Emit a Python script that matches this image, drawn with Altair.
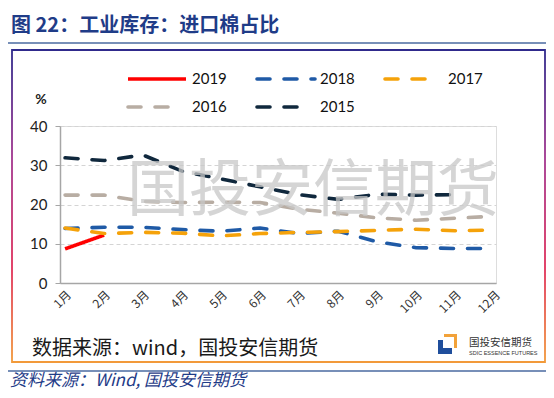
import altair as alt
import pandas as pd

months = list(range(1, 13))
month_labels = [f"{m}月" for m in months]
y_ticks = [0, 10, 20, 30, 40]

years = ["2019", "2018", "2017", "2016", "2015"]
v2019 = [8.7, 12.2]
v2018 = [13.9, 14.2, 14.2, 13.6, 13.2, 14.0, 12.6, 13.2, 10.5, 9.0, 8.8, 8.8]
v2017 = [14.0, 12.6, 12.9, 12.7, 12.0, 12.6, 12.9, 13.1, 13.4, 13.7, 13.3, 13.5]
v2016 = [22.4, 22.4, 20.8, 20.5, 20.6, 20.5, 18.8, 17.8, 16.6, 16.0, 16.5, 17.0]
v2015 = [31.9, 31.2, 32.6, 28.5, 26.5, 24.5, 22.5, 21.3, 22.6, 22.4, 22.5]
series_values = {"2019": v2019, "2018": v2018, "2017": v2017, "2016": v2016, "2015": v2015}
colors = {"2019": "#ff0000", "2018": "#1f5aa6", "2017": "#f5a20a", "2016": "#b8ada3", "2015": "#10283d"}
dashes = {"2019": [1, 0], "2018": [13, 14], "2017": [13, 14], "2016": [13, 14], "2015": [13, 14]}

title_text = "图 22：工业库存：进口棉占比"
source_text = "数据来源：wind，国投安信期货"
footer_text = "资料来源：Wind, 国投安信期货"
watermark = "国投安信期货"
logo_cn = "国投安信期货"
logo_en = "SDIC ESSENCE FUTURES"

W, H = 436, 157
CJK = "Noto Sans CJK SC"
one = alt.Data(values=[{"a": 1}])

x_enc = alt.X("m:Q", scale=alt.Scale(domain=[0.87, 12.05], nice=False, zero=False),
              axis=alt.Axis(values=months, labelExpr="datum.value + '月'", labelAngle=-45,
                            labelOverlap=False, title=None, grid=False, ticks=False,
                            domainColor="#a6a6a6", domainWidth=1.5, labelFont=CJK,
                            labelFontSize=12, labelColor="#333333", labelPadding=6))
y_enc = alt.Y("v:Q", scale=alt.Scale(domain=[0, 40], nice=False),
              axis=alt.Axis(values=y_ticks, labelOverlap=False, title=None, grid=True,
                            gridDash=[4, 3], gridColor="#d4d4d4", gridWidth=1,
                            domainColor="#a6a6a6", domainWidth=1.5, tickColor="#a6a6a6",
                            tickSize=5, labelFont="Lato", labelFontSize=15,
                            labelColor="#222222", labelPadding=8))

layers = []
draw_order = ["2019", "2018", "2017", "2016", "2015"]
for yr in draw_order:
    vals = series_values[yr]
    df = pd.DataFrame({"m": months[:len(vals)], "v": vals})
    layers.append(
        alt.Chart(df).mark_line(color=colors[yr], strokeWidth=3.6, strokeDash=dashes[yr],
                                strokeCap="round" if yr != "2019" else "butt").encode(
            x=x_enc, y=y_enc)
    )

# watermark on top
layers.append(alt.Chart(one).mark_text(text=watermark, font=CJK, fontSize=62, color="#c8c8c8",
                                       opacity=0.75, align="center", baseline="middle").encode(
    x=alt.value(253), y=alt.value(66)))

# legend
ox, oy = 60, 126
legend_rows = [
    ("2019", 128, 186, 79, 192), ("2018", 257, 315, 79, 320), ("2017", 385, 432, 79, 448),
    ("2016", 128, 175, 107, 192), ("2015", 257, 305, 107, 320),
]
for yr, x1, x2, ly, tx in legend_rows:
    layers.append(alt.Chart(one).mark_rule(color=colors[yr], strokeWidth=3.6, strokeDash=dashes[yr],
                                           strokeCap="round" if yr != "2019" else "butt").encode(
        x=alt.value(x1 - ox), x2=alt.value(x2 - ox), y=alt.value(ly - oy)))
    layers.append(alt.Chart(one).mark_text(text=yr, font="Lato", fontSize=15, color="#111111",
                                           align="left", baseline="middle").encode(
        x=alt.value(tx - ox), y=alt.value(ly - oy)))

# % label
layers.append(alt.Chart(one).mark_text(text="%", font="Lato", fontSize=14, fontWeight="bold",
                                       color="#222222", align="center", baseline="middle").encode(
    x=alt.value(41 - ox), y=alt.value(100 - oy)))

# frame with gradient
grad = alt.LinearGradient(gradient="linear", x1=0, y1=0, x2=0, y2=1,
                          stops=[alt.GradientStop(color="#2f2a8c", offset=0),
                                 alt.GradientStop(color="#a3358f", offset=0.35),
                                 alt.GradientStop(color="#e0305a", offset=0.7),
                                 alt.GradientStop(color="#f29a3a", offset=1)])
layers.append(alt.Chart(one).mark_rect(fill="transparent", stroke=grad, strokeWidth=1.8).encode(
    x=alt.value(12 - ox), x2=alt.value(545 - ox), y=alt.value(50 - oy), y2=alt.value(362 - oy)))

# title and separator lines
layers.append(alt.Chart(one).mark_text(text=title_text, font=CJK, fontSize=20, fontWeight="bold",
                                       color="#1f3c88", align="left", baseline="middle").encode(
    x=alt.value(11 - ox), y=alt.value(26 - oy)))
layers.append(alt.Chart(one).mark_rule(color="#4a6aa0", strokeWidth=1.5).encode(
    x=alt.value(8 - ox), x2=alt.value(546 - ox), y=alt.value(43 - oy)))
layers.append(alt.Chart(one).mark_rule(color="#4a6aa0", strokeWidth=1.5).encode(
    x=alt.value(8 - ox), x2=alt.value(546 - ox), y=alt.value(371 - oy)))

# source inside frame
layers.append(alt.Chart(one).mark_text(text=source_text, font=CJK, fontSize=20, color="#1a1a1a",
                                       align="left", baseline="middle").encode(
    x=alt.value(32 - ox), y=alt.value(349 - oy)))

# footer
layers.append(alt.Chart(one).mark_text(text=footer_text, font=CJK, fontSize=17, fontStyle="italic",
                                       color="#1f3c88", align="left", baseline="middle").encode(
    x=alt.value(10 - ox), y=alt.value(381 - oy)))

# logo
def rect(x1, x2, y1, y2, color):
    return alt.Chart(one).mark_rect(color=color).encode(
        x=alt.value(x1 - ox), x2=alt.value(x2 - ox), y=alt.value(y1 - oy), y2=alt.value(y2 - oy))

layers.append(rect(438, 452, 340, 354, "#1f4e9c"))
layers.append(rect(443, 452, 340, 348, "#ffffff"))
layers.append(rect(444, 457, 334, 337, "#f2a23a"))
layers.append(rect(454, 457, 334, 348, "#f2a23a"))
layers.append(alt.Chart(one).mark_text(text=logo_cn, font=CJK, fontSize=10.5, color="#333333",
                                       align="left", baseline="middle").encode(
    x=alt.value(469 - ox), y=alt.value(343 - oy)))
layers.append(alt.Chart(one).mark_text(text=logo_en, font="Liberation Sans", fontSize=5.5, color="#333333",
                                       align="left", baseline="middle").encode(
    x=alt.value(469 - ox), y=alt.value(353 - oy)))

chart = alt.layer(*layers).properties(
    width=W, height=H,
    autosize=alt.AutoSizeParams(type="none"),
    padding={"left": 52, "top": 118, "right": 50, "bottom": 107},
).configure_view(stroke=None).configure(background="white")

chart.save("out.html", embed_options={"renderer": "svg", "actions": False})
